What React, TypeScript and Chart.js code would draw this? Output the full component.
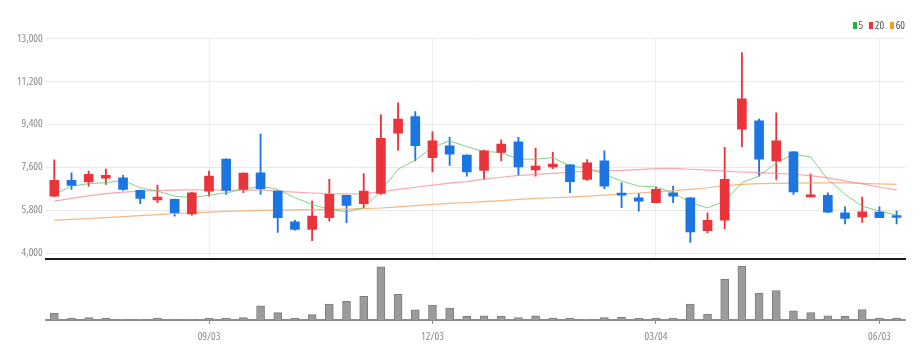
import React, { useEffect, useRef } from 'react';
import { Chart, registerables } from 'chart.js';

Chart.register(...registerables);

// ---------- data ----------
const labels = [
  '07/02', '07/09', '07/16', '07/23', '07/30', '08/06', '08/13', '08/20', '08/27', '09/03',
  '09/10', '09/17', '09/24', '10/01', '10/08', '10/15', '10/22', '10/29', '11/05', '11/12',
  '11/19', '11/26', '12/03', '12/10', '12/17', '12/24', '12/31', '01/07', '01/14', '01/21',
  '01/28', '02/04', '02/11', '02/18', '02/25', '03/04', '03/11', '03/18', '03/25', '04/01',
  '04/08', '04/15', '04/22', '04/29', '05/06', '05/13', '05/20', '05/27', '06/03', '06/10',
];

const shownDates = ['09/03', '12/03', '03/04', '06/03'];

const opens = [
  6390, 7050, 6980, 7140, 7160, 6630, 6230, 6250, 5640, 6600,
  7940, 6670, 7370, 6600, 5310, 4990, 5480, 6420, 6070, 6500,
  9030, 9720, 8000, 8500, 8110, 7470, 8220, 8670, 7490, 7610,
  7700, 7090, 7870, 6520, 6320, 6110, 6530, 6320, 4940, 5380,
  9200, 9550, 7870, 8250, 6360, 6420, 5690, 5520, 5720, 5530,
];
const highs = [
  7910, 7370, 7440, 7520, 7260, 6640, 6850, 6260, 6560, 7440,
  7950, 7370, 8990, 6610, 5370, 6180, 7090, 6430, 7330, 9800,
  10300, 9930, 9100, 8850, 8120, 8320, 8750, 8850, 8400, 8220,
  7710, 7920, 8290, 6950, 6490, 6770, 6810, 6330, 5690, 8430,
  12410, 9620, 9880, 8260, 7310, 6530, 5940, 6350, 5940, 5760,
];
const lows = [
  6350, 6670, 6810, 6880, 6630, 6070, 6110, 5550, 5590, 6390,
  6460, 6530, 6460, 4870, 4960, 4520, 5340, 5270, 5900, 6460,
  8320, 7870, 7400, 7680, 7230, 7090, 7870, 7260, 7230, 7540,
  6530, 7050, 6700, 5900, 5760, 6100, 6110, 4450, 4840, 5010,
  8460, 7230, 7090, 6460, 6360, 5690, 5220, 5290, 5480, 5220,
];
const closes = [
  7050, 6840, 7300, 7260, 6670, 6290, 6350, 5690, 6530, 7230,
  6630, 7350, 6700, 5480, 4990, 5550, 6460, 6000, 6600, 8810,
  9620, 8500, 8710, 8150, 7400, 8290, 8570, 7610, 7650, 7730,
  6990, 7790, 6810, 6430, 6180, 6670, 6390, 4890, 5370, 7090,
  10470, 7940, 8710, 6560, 6430, 5720, 5450, 5730, 5480, 5490,
];

// volume (thousand shares)
const volumes = [
  67, 20, 23, 20, 10, 10, 20, 10, 10, 20,
  20, 23, 140, 73, 20, 53, 157, 183, 233, 523,
  253, 100, 147, 117, 37, 40, 37, 23, 40, 20,
  20, 10, 23, 27, 20, 17, 17, 157, 57, 400,
  530, 263, 290, 90, 73, 40, 37, 103, 20, 20,
];

const ma5 = [
  6460, 6810, 6910, 6950, 7050, 6740, 6600, 6390, 6320, 6430,
  6530, 6670, 6810, 6670, 6320, 6040, 5830, 5730, 5900, 6600,
  7520, 7900, 8430, 8710, 8460, 8260, 8220, 7940, 7940, 8000,
  7650, 7580, 7300, 7020, 6810, 6770, 6530, 6110, 5900, 6180,
  6950, 7230, 7790, 8150, 8030, 7090, 6460, 5970, 5760, 5590,
];
const ma20 = [
  6180, 6290, 6400, 6490, 6560, 6600, 6620, 6640, 6650, 6650,
  6640, 6640, 6650, 6600, 6560, 6520, 6490, 6480, 6490, 6560,
  6670, 6760, 6850, 6930, 7000, 7100, 7180, 7260, 7300, 7340,
  7390, 7440, 7460, 7470, 7500, 7540, 7550, 7515, 7480, 7440,
  7400, 7370, 7340, 7305, 7250, 7150, 7030, 6900, 6770, 6650,
];
const ma60 = [
  5370, 5410, 5450, 5490, 5530, 5570, 5610, 5650, 5690, 5720,
  5750, 5770, 5790, 5800, 5810, 5820, 5830, 5840, 5860, 5890,
  5940, 5990, 6040, 6080, 6120, 6160, 6200, 6250, 6290, 6320,
  6350, 6390, 6430, 6470, 6520, 6570, 6620, 6670, 6740, 6830,
  6880, 6910, 6920, 6930, 6940, 6950, 6940, 6920, 6900, 6880,
];

const priceTicks = [4000, 5800, 7600, 9400, 11200, 13000];

// ---------- styles ----------
const FONT = '"Open Sans", sans-serif';
const UP = '#e8343a';
const DOWN = '#1b76e2';
const TEXT = '#8a8a8a';

const legendItems = [
  { label: '5', color: '#22b33a' },
  { label: '20', color: '#e8343a' },
  { label: '60', color: '#f39a2c' },
];

export default function App() {
  const priceRef = useRef<HTMLCanvasElement | null>(null);
  const volRef = useRef<HTMLCanvasElement | null>(null);

  useEffect(() => {
    const candleColors = opens.map((o, i) => (closes[i] >= o ? UP : DOWN));
    const isShown = (i: number) => shownDates.includes(labels[i]);

    const price = new Chart(priceRef.current as HTMLCanvasElement, {
      type: 'bar',
      data: {
        labels,
        datasets: [
          {
            type: 'line',
            label: '5',
            data: ma5,
            borderColor: 'rgba(110,200,110,0.85)',
            borderWidth: 1,
            pointRadius: 0,
            tension: 0,
            order: 2,
          } as any,
          {
            type: 'line',
            label: '20',
            data: ma20,
            borderColor: 'rgba(242,140,150,0.75)',
            borderWidth: 1.2,
            pointRadius: 0,
            tension: 0,
            order: 2,
          },
          {
            type: 'line',
            label: '60',
            data: ma60,
            borderColor: 'rgba(245,170,110,0.85)',
            borderWidth: 1.2,
            pointRadius: 0,
            tension: 0,
            order: 2,
          },
          {
            type: 'bar',
            label: 'body',
            data: opens.map((o, i) => [o, closes[i]]),
            backgroundColor: candleColors,
            barThickness: 9,
            minBarLength: 2,
            grouped: false,
            order: 0,
          },
          {
            type: 'bar',
            label: 'wick',
            data: lows.map((l, i) => [l, highs[i]]),
            backgroundColor: candleColors,
            barThickness: 1.2,
            grouped: false,
            order: 3,
          },
        ],
      },
      options: {
        animation: false,
        responsive: false,
        maintainAspectRatio: false,
        layout: { padding: { top: 38.5, right: 17.8, bottom: 2, left: 0 } },
        plugins: { legend: { display: false }, tooltip: { enabled: false } },
        scales: {
          x: {
            grid: {
              offset: false,
              drawTicks: false,
              color: (c: any) => (isShown(c.index) ? '#ededed' : 'rgba(0,0,0,0)'),
            },
            ticks: { display: false, autoSkip: false },
            border: { display: true, color: '#1a1a1a', width: 2 },
          },
          y: {
            min: 3734,
            max: 13000,
            afterBuildTicks: (s: any) => {
              s.ticks = priceTicks.map((v) => ({ value: v }));
            },
            afterFit: (s: any) => {
              s.width = 45.7;
            },
            grid: { color: '#e9e9e9', drawTicks: false },
            border: { display: false },
            ticks: {
              padding: 3,
              color: TEXT,
              font: { family: FONT, size: 11, weight: 'condensed' },
              callback: (v: any) => Number(v).toLocaleString('en-US'),
            },
          },
        },
      } as any,
    });

    const vol = new Chart(volRef.current as HTMLCanvasElement, {
      type: 'bar',
      data: {
        labels,
        datasets: [
          {
            label: 'volume',
            data: volumes,
            backgroundColor: '#9b9b9b',
            borderColor: '#7d7d7d',
            borderWidth: 1,
            barThickness: 8,
          },
        ],
      },
      options: {
        animation: false,
        responsive: false,
        maintainAspectRatio: false,
        layout: { padding: { top: 3, left: 45.7, right: 17.8, bottom: 9.8 } },
        plugins: { legend: { display: false }, tooltip: { enabled: false } },
        scales: {
          x: {
            grid: {
              offset: false,
              drawOnChartArea: false,
              drawTicks: true,
              tickLength: 4,
              color: (c: any) => (isShown(c.index) ? '#8c8c8c' : 'rgba(0,0,0,0)'),
            },
            border: { display: true, color: '#8c8c8c', width: 2 },
            ticks: {
              autoSkip: false,
              maxRotation: 0,
              padding: 6,
              color: TEXT,
              font: { family: FONT, size: 11, weight: 'condensed' },
              callback: (_v: any, i: number) => (isShown(i) ? labels[i] : ''),
            },
          },
          y: { display: false, min: 0, max: 570 },
        },
      } as any,
    });

    return () => {
      price.destroy();
      vol.destroy();
    };
  }, []);

  return (
    <div
      style={{
        position: 'absolute',
        left: 0,
        top: 0,
        width: 923,
        height: 359,
        background: '#fff',
        overflow: 'hidden',
      }}
    >
      <canvas
        ref={priceRef}
        width={923}
        height={269}
        style={{ position: 'absolute', left: 0, top: 0, width: 923, height: 269 }}
      />
      <canvas
        ref={volRef}
        width={923}
        height={100}
        style={{ position: 'absolute', left: 0, top: 259, width: 923, height: 100 }}
      />
      <div
        style={{
          position: 'absolute',
          right: 18,
          top: 18,
          display: 'flex',
          alignItems: 'center',
          fontFamily: FONT,
          fontStretch: 'condensed',
          fontSize: 11,
          color: '#555',
          lineHeight: '14px',
        }}
      >
        {legendItems.map((it, i) => (
          <span key={it.label} style={{ display: 'flex', alignItems: 'center', marginLeft: i === 0 ? 0 : 6 }}>
            <span style={{ display: 'inline-block', width: 4, height: 7, background: it.color, marginRight: 1.5 }} />
            {it.label}
          </span>
        ))}
      </div>
    </div>
  );
}
